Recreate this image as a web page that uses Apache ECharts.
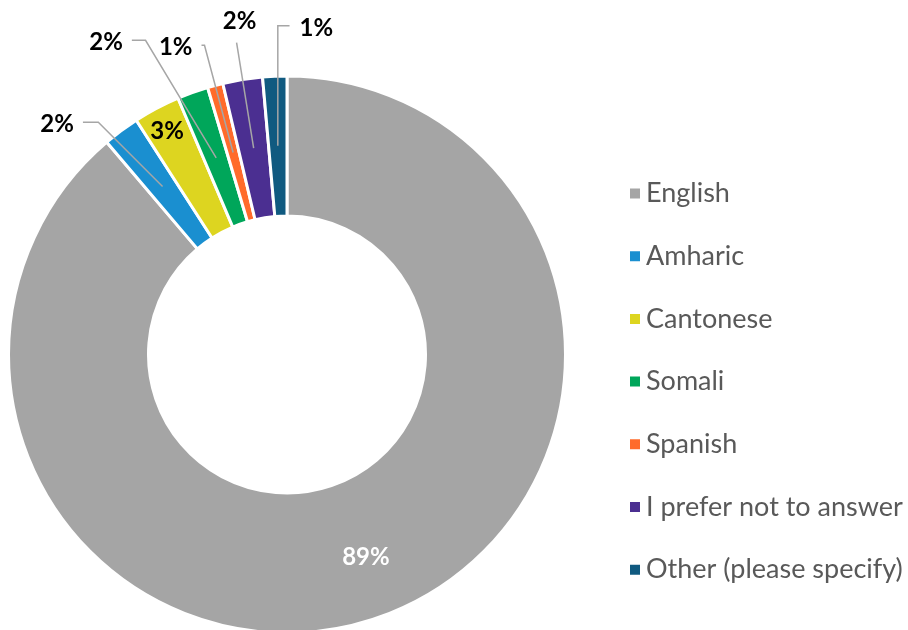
<!DOCTYPE html>
<html>
<head>
<meta charset="utf-8">
<script src="https://cdn.jsdelivr.net/npm/echarts@6/dist/echarts.min.js"></script>
<style>
html, body { margin: 0; padding: 0; background: #fff; }
#chart { width: 908px; height: 630px; }
</style>
</head>
<body>
<div id="chart"></div>
<script>
// data
var languages = ["English", "Amharic", "Cantonese", "Somali", "Spanish", "I prefer not to answer", "Other (please specify)"];
var shares = [88.8, 2.1, 2.7, 1.8, 0.9, 2.3, 1.4];

var colors = ["#A5A5A5", "#1A8FD0", "#DDD520", "#00A65A", "#FF6B2B", "#4B2F91", "#105A80"];
// leader line: [length, length2, minTurnAngle], null = label sits in the ring
var leaders = [null, [80, 32, 135], null, [125, 42, 121], [111, 3, 90], [107, 0, 90], [120, -17, 90]];
// nudges for the labels drawn in the ring
var ringShift = { 0: [6, 4], 2: [-21, -36] };

var pctText = function (p) {
  return Math.round(p.percent) + "%";
};

var ringData = languages.map(function (name, i) {
  var inRing = leaders[i] == null;
  return {
    name: name,
    value: shares[i],
    itemStyle: { color: colors[i] },
    label: { show: inRing, color: i === 0 ? "#fff" : "#000" }
  };
});

// transparent inner pie, only there so the leader lines start mid-ring
var leaderData = languages.map(function (name, i) {
  var l = leaders[i];
  if (!l) {
    return { name: name, value: shares[i], label: { show: false }, labelLine: { show: false } };
  }
  return {
    name: name,
    value: shares[i],
    labelLine: { length: l[0], length2: l[1], minTurnAngle: l[2] }
  };
});

var labelFont = { fontFamily: "Lato", fontWeight: "bold", fontSize: 24 };

var myChart = echarts.init(document.getElementById("chart"));
myChart.setOption({
  animation: false,
  legend: {
    orient: "vertical",
    left: 623,
    top: 175,
    itemWidth: 12,
    itemHeight: 12,
    itemGap: 35.7,
    icon: "rect",
    selectedMode: false,
    textStyle: { fontFamily: "Lato", fontSize: 27, color: "#595959" },
    data: languages
  },
  series: [
    {
      type: "pie",
      z: 2,
      radius: [138.5, 278.5],
      center: [287, 354.5],
      startAngle: 90,
      silent: true,
      avoidLabelOverlap: false,
      itemStyle: { borderColor: "#fff", borderWidth: 3 },
      label: Object.assign({ position: "inside", formatter: pctText }, labelFont),
      labelLine: { show: false },
      labelLayout: function (p) {
        var s = ringShift[p.dataIndex];
        if (!s) return {};
        return {
          x: p.labelRect.x + p.labelRect.width / 2 + s[0],
          y: p.labelRect.y + p.labelRect.height / 2 + s[1],
          align: "center",
          verticalAlign: "middle"
        };
      },
      data: ringData
    },
    {
      type: "pie",
      z: 5,
      radius: [0, 209],
      center: [287, 354.5],
      startAngle: 90,
      silent: true,
      avoidLabelOverlap: false,
      itemStyle: { color: "rgba(0,0,0,0)" },
      label: Object.assign({ position: "outside", color: "#000", distanceToLabelLine: 9, formatter: pctText }, labelFont),
      labelLine: { show: true, lineStyle: { color: "#A6A6A6", width: 1.5 } },
      labelLayout: function (p) {
        var pts = p.labelLinePoints;
        if (!pts) return {};
        var end = pts[2];
        if (p.dataIndex === 5) {
          return { x: end[0] + 3, y: end[1] - 21, align: "center", verticalAlign: "middle", labelLinePoints: pts };
        }
        if (p.dataIndex === 6) {
          return { x: end[0] + 10, y: end[1] + 2, align: "left", verticalAlign: "middle", labelLinePoints: pts };
        }
        return { y: end[1] + 2, verticalAlign: "middle", labelLinePoints: pts };
      },
      data: leaderData
    }
  ]
});
</script>
</body>
</html>
